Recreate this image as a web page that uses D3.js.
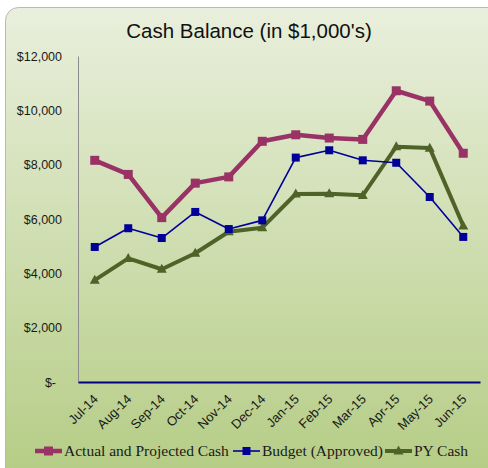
<!DOCTYPE html>
<html>
<head>
<meta charset="utf-8">
<script src="https://cdn.jsdelivr.net/npm/d3@7"></script>
<style>
  body { margin: 0; background: #fff; }
  svg { display: block; }
</style>
</head>
<body>
<div id="chart"></div>
<script>
// Chart data (in $1,000's)
var months = ["Jul-14", "Aug-14", "Sep-14", "Oct-14", "Nov-14", "Dec-14",
              "Jan-15", "Feb-15", "Mar-15", "Apr-15", "May-15", "Jun-15"];
var actualCash = [8160, 7640, 6050, 7320, 7550, 8860, 9100, 8980, 8930, 10720, 10340, 8420];
var budgetCash = [4970, 5660, 5300, 6260, 5630, 5950, 8260, 8530, 8160, 8070, 6810, 5340];
var pyCash = [3750, 4550, 4150, 4740, 5530, 5680, 6920, 6930, 6870, 8660, 8610, 5750];
var yTicks = [0, 2000, 4000, 6000, 8000, 10000, 12000];

var W = 488, H = 468;
var svg = d3.select("#chart").append("svg")
    .attr("width", W)
    .attr("height", H);

// Background panel with vertical gradient
var defs = svg.append("defs");
var grad = defs.append("linearGradient")
    .attr("id", "bg")
    .attr("x1", 0).attr("y1", 0).attr("x2", 0).attr("y2", 1);
grad.append("stop").attr("offset", "0%").attr("stop-color", "#e9efdc");
grad.append("stop").attr("offset", "100%").attr("stop-color", "#b4cc84");

svg.append("rect")
    .attr("x", 5.5).attr("y", 7.5)
    .attr("width", 496).attr("height", 476)
    .attr("rx", 13).attr("ry", 13)
    .attr("fill", "url(#bg)")
    .attr("stroke", "#b8b8b8")
    .attr("stroke-width", 1);

// Title
svg.append("text")
    .attr("x", 249)
    .attr("y", 38)
    .attr("text-anchor", "middle")
    .style("font-family", "Liberation Sans, Arial, sans-serif")
    .style("font-size", "20.5px")
    .style("fill", "#111")
    .text("Cash Balance (in $1,000's)");

// Plot area bounds
var plotLeft = 78, plotRight = 480, plotTop = 56, plotBottom = 382;
var x = d3.scaleBand().domain(months).range([plotLeft, plotRight]);
var y = d3.scaleLinear().domain([0, 12000]).range([plotBottom, plotTop]);
function cx(d, i) { return x(months[i]) + x.bandwidth() / 2; }

// Y axis
var yAxis = svg.append("g")
    .attr("transform", "translate(" + plotLeft + ",0)")
    .call(d3.axisLeft(y).tickValues(yTicks).tickSize(0).tickPadding(16)
        .tickFormat(function(d) { return d === 0 ? "$-" : "$" + d3.format(",")(d); }));
yAxis.select(".domain").attr("stroke", "#8c8c8c").attr("stroke-width", 1);
yAxis.selectAll("text")
    .style("font-family", "Liberation Sans, Arial, sans-serif")
    .style("font-size", "12.5px")
    .style("fill", "#1a1a1a")
    .attr("dx", function(d) { return d === 0 ? -6 : 0; });

// X axis
var xAxis = svg.append("g")
    .attr("transform", "translate(0," + plotBottom + ")")
    .call(d3.axisBottom(x).tickSize(0).tickPadding(0));
xAxis.select(".domain").attr("stroke", "#000080").attr("stroke-width", 2);
xAxis.selectAll("text")
    .style("font-family", "Liberation Sans, Arial, sans-serif")
    .style("font-size", "13px")
    .style("fill", "#1a1a1a")
    .style("text-anchor", "end")
    .attr("y", 0)
    .attr("dy", 0)
    .attr("transform", "translate(4,18) rotate(-45)");

// Series
var series = [
    { name: "Actual and Projected Cash", values: actualCash, color: "#993366", width: 4.5, shape: "square", size: 9 },
    { name: "Budget (Approved)", values: budgetCash, color: "#000099", width: 1.6, shape: "square", size: 8 },
    { name: "PY Cash", values: pyCash, color: "#4f6228", width: 4, shape: "triangle", size: 10 }
];

var line = d3.line()
    .x(function(d, i) { return cx(d, i); })
    .y(function(d) { return y(d); });

function drawMarker(g, shape, size, color) {
    if (shape === "square") {
        g.append("rect")
            .attr("x", -size / 2).attr("y", -size / 2)
            .attr("width", size).attr("height", size)
            .attr("fill", color);
    } else {
        var h = size * 0.9;
        g.append("path")
            .attr("d", "M0," + (-h * 0.6) + "L" + (size / 2) + "," + (h * 0.4) + "L" + (-size / 2) + "," + (h * 0.4) + "Z")
            .attr("fill", color);
    }
}

// Draw in reverse so Actual sits on top
series.slice().reverse().forEach(function(s) {
    svg.append("path")
        .datum(s.values)
        .attr("fill", "none")
        .attr("stroke", s.color)
        .attr("stroke-width", s.width)
        .attr("stroke-linejoin", "round")
        .attr("d", line);
    s.values.forEach(function(v, i) {
        var g = svg.append("g").attr("transform", "translate(" + cx(v, i) + "," + y(v) + ")");
        drawMarker(g, s.shape, s.size, s.color);
    });
});

// Legend
var legendX = [35, 233, 385];
series.forEach(function(s, i) {
    var lg = svg.append("g").attr("transform", "translate(" + legendX[i] + ",451)");
    lg.append("line")
        .attr("x1", 0).attr("x2", 27)
        .attr("y1", 0).attr("y2", 0)
        .attr("stroke", s.color)
        .attr("stroke-width", s.width);
    var m = lg.append("g").attr("transform", "translate(13.5,0)");
    drawMarker(m, s.shape, s.size, s.color);
    lg.append("text")
        .attr("x", 29)
        .attr("y", 5)
        .style("font-family", "Liberation Serif, Times New Roman, serif")
        .style("font-size", "15.5px")
        .style("fill", "#1a1a1a")
        .text(s.name);
});
</script>
</body>
</html>
